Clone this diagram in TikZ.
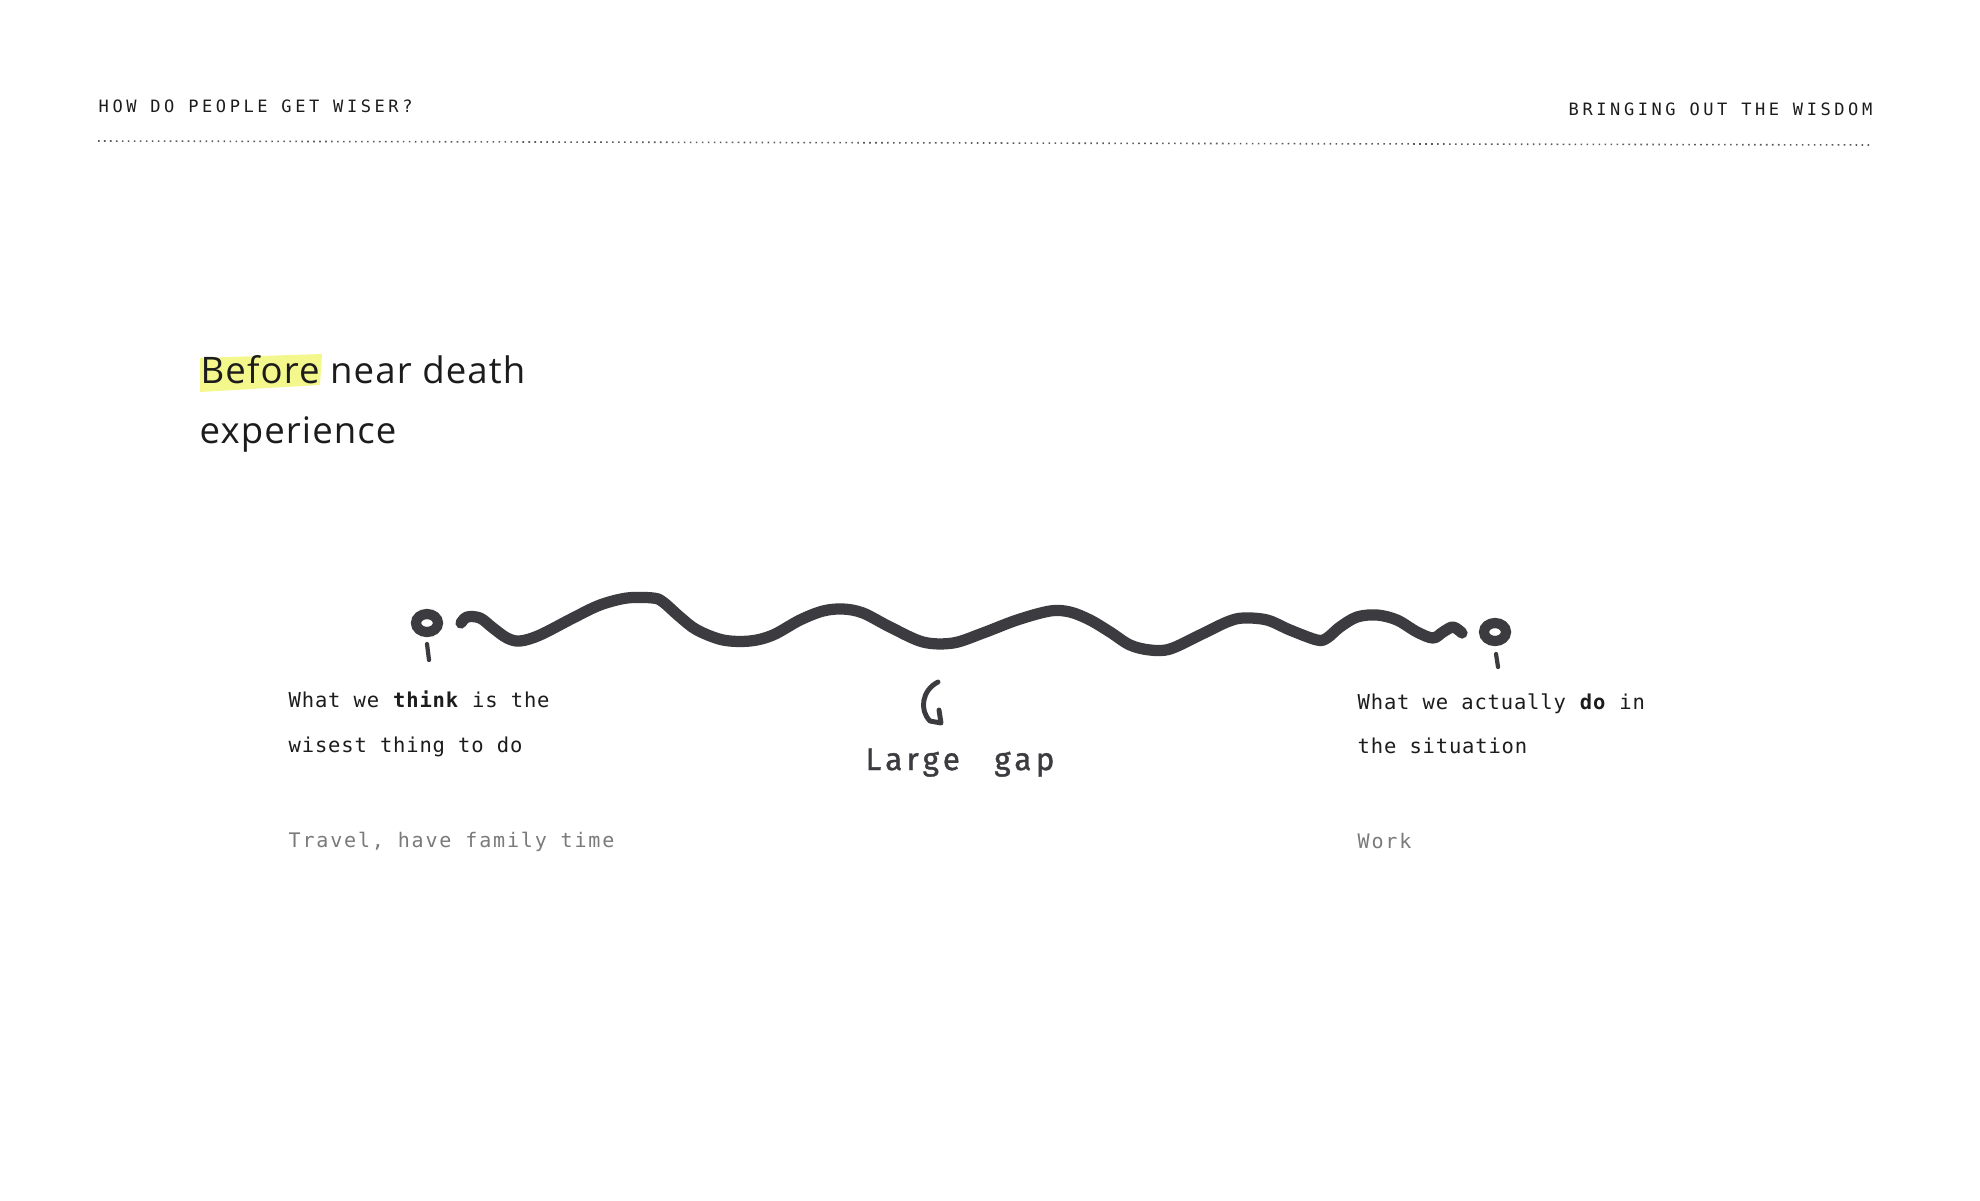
\documentclass[tikz,border=0pt]{standalone}
\usepackage{fontspec}
\newfontfamily\headfont[LetterSpace=3]{Open Sans}
\newfontfamily\monofont[LetterSpace=4]{DejaVu Sans Mono}
\newfontfamily\capfont[LetterSpace=21]{DejaVu Sans Mono}
\newfontfamily\greyfont[LetterSpace=9]{DejaVu Sans Mono}
\newfontfamily\handfont[LetterSpace=14,FakeBold=1.2]{Fira Sans}
\definecolor{ink}{HTML}{1C1C1C}
\definecolor{marker}{HTML}{3C3B40}
\definecolor{greytxt}{HTML}{7A7A7A}
\definecolor{hilite}{HTML}{F4F78C}
\begin{document}
\begin{tikzpicture}[x=0.01cm,y=-0.01cm,
hdr/.style = {inner sep=0,text=ink,font={\capfont\fontsize{4.84}{5}\selectfont}},
ttl/.style = {anchor=base west,inner sep=0,text=ink,font={\headfont\fontsize{10.4}{12}\selectfont}},
mono/.style = {anchor=base west,inner sep=0,text=ink,font={\monofont\fontsize{5.83}{7}\selectfont}},
grey/.style = {anchor=base west,inner sep=0,text=greytxt,font={\greyfont\fontsize{5.7}{7}\selectfont}},
hand/.style = {anchor=base,inner sep=0,text=marker,font={\handfont\fontsize{8.9}{10}\selectfont}},
wav/.style = {draw=marker,line width=3.2pt,line cap=round,line join=round},
pinring/.style = {draw=marker,line width=2.9pt},
stem/.style = {draw=marker,line width=1.2pt,line cap=round,line join=round},
dots/.style = {draw=black!65,line width=0.45pt,dash pattern=on 0.45pt off 1.25pt}
]
  \fill[white] (0,0) rectangle (1980,1200);
  \useasboundingbox (0,0) rectangle (1980,1200);

  % header
  \node[hdr,anchor=base west] (h1) at (98,112) {HOW DO PEOPLE GET WISER?};
  \node[hdr,anchor=base east] (h2) at (1873,115) {BRINGING OUT THE WISDOM};
  \draw[dots] (98,141) -- (1873,145);

  % title
  \fill[hilite] (200,358) -- (322,354) -- (320,385) -- (200,392) -- cycle;
  \node[ttl] (t1) at (200,383) {Before near death};
  \node[ttl] (t2) at (199,443) {experience};

  % pins and the wave
  \coordinate (p1) at (427,623);
  \coordinate (p2) at (1495,632);
  \path[pinring] (p1) ellipse [x radius=11,y radius=9];
  \path[pinring] (p2) ellipse [x radius=11,y radius=9];
  \path[stem] (427,644) -- (429,660);
  \path[stem] (1496,654) -- (1498,667);
  \draw[wav] plot[smooth,tension=0.55] coordinates {(461,623) (467,617) (480,618)
    (493,628) (507,638) (520,641) (540,635) (573,618) (600,605) (627,598)
    (653,598) (663,602) (680,617) (697,630) (723,640) (750,641) (773,635)
    (800,620) (823,611) (843,609) (863,613) (890,627) (923,642) (953,643)
    (983,633) (1017,620) (1050,611) (1070,612) (1090,620) (1110,632)
    (1130,645) (1150,650) (1170,649) (1200,635) (1227,622) (1243,618)
    (1267,620) (1290,630) (1317,640) (1327,638) (1340,627) (1357,617)
    (1377,615) (1397,620) (1417,632) (1433,638) (1443,632) (1453,627)
    (1462,633)};

  % left side
  \node[mono] (l1) at (288,707) {What we \textbf{think} is the};
  \node[mono] (l2) at (288,752) {wisest thing to do};
  \node[grey] (l3) at (288,847) {Travel, have family time};

  % right side
  \node[mono] (r1) at (1357,709) {What we actually \textbf{do} in};
  \node[mono] (r2) at (1357,753) {the situation};
  \node[grey] (r3) at (1357,848) {Work};

  % gap note
  \node[hand] (gap) at (960,770) {Large\hspace{1.1em}gap};
  \coordinate (a1) at (938,682);
  \draw[stem,line width=1.4pt] (a1) .. controls (922,690) and (919,710) .. (930,721)
    -- (941,723) -- (939,710);
\end{tikzpicture}
\end{document}
